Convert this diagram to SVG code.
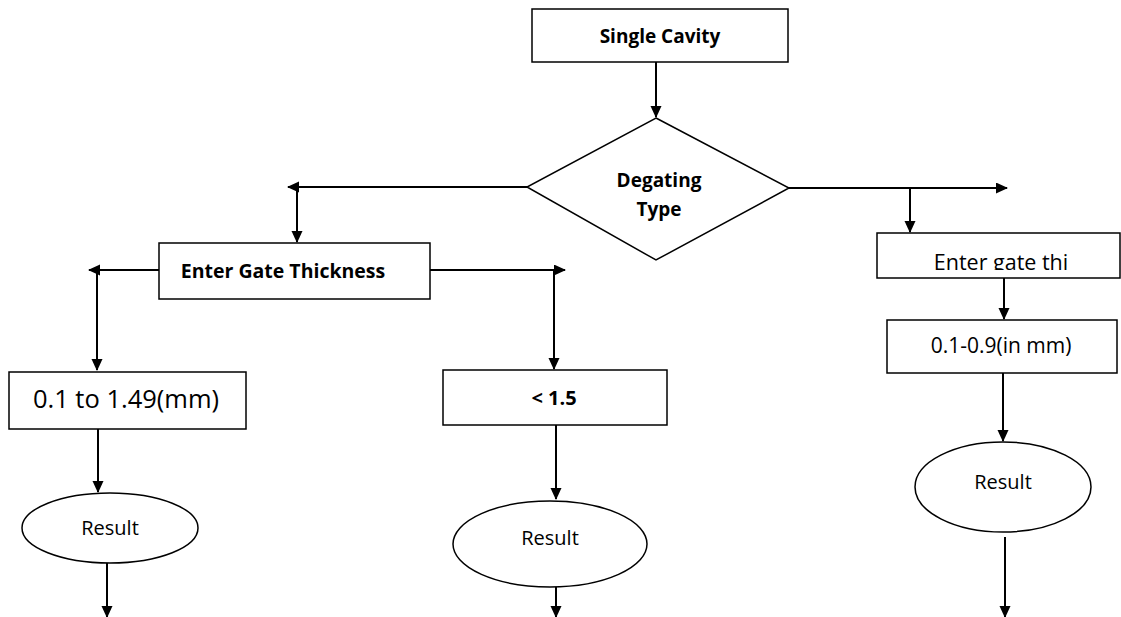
<svg xmlns="http://www.w3.org/2000/svg" width="1121" height="617" viewBox="0 0 1121 617">
<style>
.box{fill:#fff;stroke:#000;stroke-width:1.5}
.ln{fill:none;stroke:#000;stroke-width:2}
.b{font-family:"Open Sans","Liberation Sans",sans-serif;font-weight:bold;fill:#000;text-anchor:middle}
.r{font-family:"Open Sans","Liberation Sans",sans-serif;fill:#000;text-anchor:middle}
</style>
<defs>
<marker id="ah" markerWidth="12" markerHeight="12" refX="11" refY="5.5" orient="auto" markerUnits="userSpaceOnUse">
<path d="M0,0 L12,5.5 L0,11 Z" fill="#000"/>
</marker>
<clipPath id="clipR"><rect x="877" y="233" width="244" height="37"/></clipPath>
</defs>
<rect width="1121" height="617" fill="#fff"/>
<g id="connectors">
<path class="ln" d="M656,62 V117" marker-end="url(#ah)"/>
<path class="ln" d="M527,187 H288" marker-end="url(#ah)"/>
<path class="ln" d="M297,187 V242" marker-end="url(#ah)"/>
<path class="ln" d="M789,188 H1007" marker-end="url(#ah)"/>
<path class="ln" d="M910,188 V232" marker-end="url(#ah)"/>
<path class="ln" d="M159,270 H89" marker-end="url(#ah)"/>
<path class="ln" d="M97,270 V370" marker-end="url(#ah)"/>
<path class="ln" d="M430,270 H565" marker-end="url(#ah)"/>
<path class="ln" d="M554,270 V369" marker-end="url(#ah)"/>
<path class="ln" d="M98,429 V492" marker-end="url(#ah)"/>
<path class="ln" d="M107,563 V617" marker-end="url(#ah)"/>
<path class="ln" d="M556,425 V499" marker-end="url(#ah)"/>
<path class="ln" d="M556,587 V617" marker-end="url(#ah)"/>
<path class="ln" d="M1004,278 V319" marker-end="url(#ah)"/>
<path class="ln" d="M1003,373 V441" marker-end="url(#ah)"/>
<path class="ln" d="M1005,537 V617" marker-end="url(#ah)"/>
</g>
<g id="single-cavity">
<rect class="box" x="532" y="9" width="256" height="53"/>
<text class="b" x="660" y="43" font-size="19">Single Cavity</text>
</g>
<g id="degating-type">
<polygon class="box" points="656,118 789,188 656,260 527,187"/>
<text class="b" x="659" y="187" font-size="19">Degating</text>
<text class="b" x="659" y="216" font-size="19">Type</text>
</g>
<g id="enter-gate-thickness">
<rect class="box" x="159" y="243" width="271" height="56"/>
<text class="b" x="283" y="278" font-size="19.5">Enter Gate Thickness</text>
</g>
<g id="enter-gate-thi">
<rect class="box" x="877" y="233" width="243" height="45"/>
<text class="r" x="1001" y="270" font-size="21.5" clip-path="url(#clipR)">Enter gate thi</text>
</g>
<g id="range-left">
<rect class="box" x="9" y="372" width="237" height="57"/>
<text class="r" x="126" y="408" font-size="25.5">0.1 to 1.49(mm)</text>
</g>
<g id="lt-1-5">
<rect class="box" x="443" y="370" width="224" height="55"/>
<text class="b" x="554" y="405" font-size="20">&lt; 1.5</text>
</g>
<g id="range-right">
<rect class="box" x="887" y="320" width="230" height="53"/>
<text class="r" x="1001" y="353" font-size="21">0.1-0.9(in mm)</text>
</g>
<g id="result-left">
<ellipse class="box" cx="110" cy="528" rx="88" ry="35"/>
<text class="r" x="110" y="535" font-size="20">Result</text>
</g>
<g id="result-mid">
<ellipse class="box" cx="550" cy="544" rx="97" ry="43"/>
<text class="r" x="550" y="545" font-size="20">Result</text>
</g>
<g id="result-right">
<ellipse class="box" cx="1003" cy="487" rx="88" ry="45"/>
<text class="r" x="1003" y="489" font-size="20">Result</text>
</g>
</svg>
